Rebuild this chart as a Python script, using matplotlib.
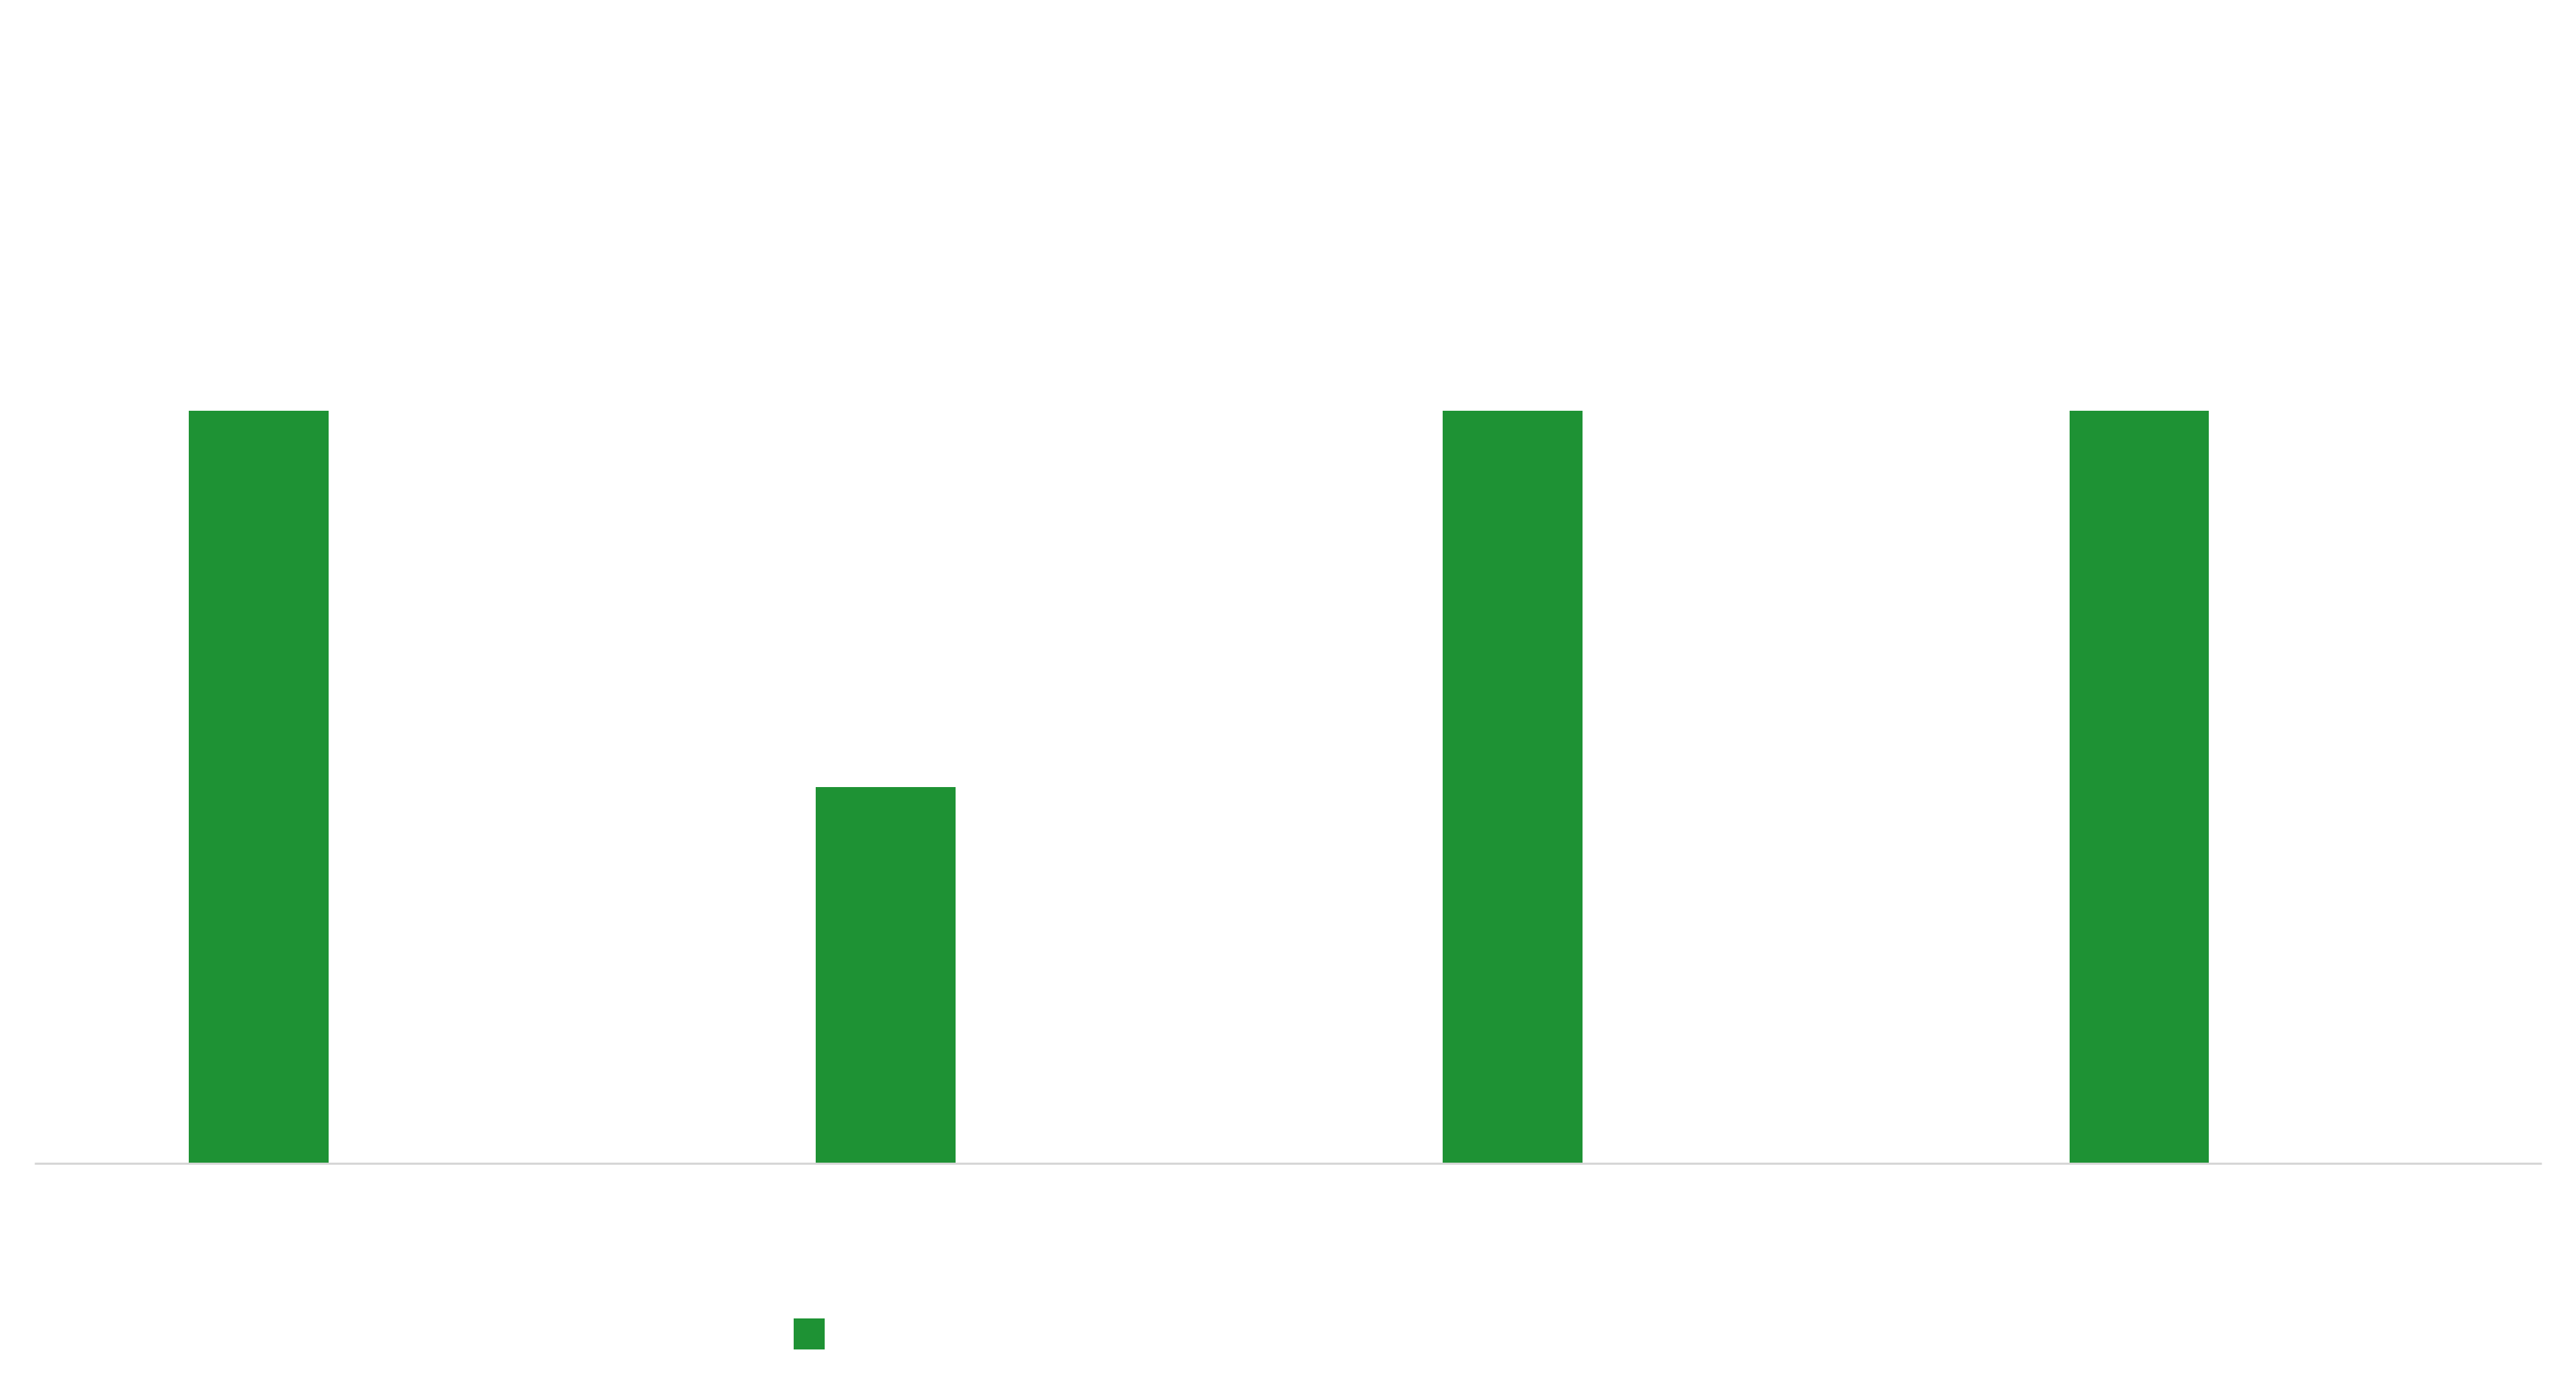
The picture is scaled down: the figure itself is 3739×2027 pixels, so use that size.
import matplotlib
matplotlib.use("Agg")
import matplotlib.pyplot as plt
from matplotlib.patches import Patch
import numpy as np

categories = ["A", "B", "C", "D"]
values = [2, 1, 2, 2]
series_name = ""
bar_color = "#1e9234"

W, H = 3739, 2027
fig = plt.figure(figsize=(W / 100, H / 100), dpi=100)
left, right = 50 / W, 3689 / W
bottom, top = 1 - 1688 / H, 1 - 50 / H
ax = fig.add_axes([left, bottom, right - left, top - bottom])

x = np.arange(len(categories))
ax.bar(x - 0.142, values, width=0.223, color=bar_color, linewidth=0)
ax.set_xlim(-0.5, len(categories) - 0.5)
ax.set_ylim(0, 3)
for s in ["top", "right", "left"]:
    ax.spines[s].set_visible(False)
ax.spines["bottom"].set_color("#d6d6d6")
ax.spines["bottom"].set_linewidth(2.2)
ax.spines["bottom"].set_capstyle("butt")
ax.set_xticks([])
ax.set_yticks([])

handle = Patch(facecolor=bar_color, edgecolor="none")
leg = fig.legend([handle], [series_name], loc="upper left",
                 bbox_to_anchor=(1152 / W, 1 - 1909 / H),
                 frameon=False, fontsize=46, handlelength=0.7, handleheight=0.7,
                 borderpad=0, borderaxespad=0, handletextpad=0.3)

fig.savefig("out.png", dpi=100, facecolor="white")
